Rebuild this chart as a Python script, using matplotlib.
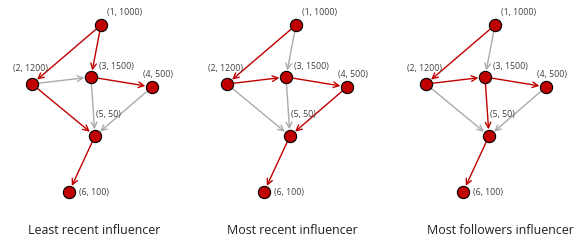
import matplotlib
matplotlib.use("Agg")
import matplotlib.pyplot as plt

# node layout (pixel coords inside one panel)
node_ids = [1, 2, 3, 4, 5, 6]
node_followers = [1000, 1200, 1500, 500, 50, 100]
node_x = [101, 32, 91, 152, 95, 69]
node_y = [25, 84, 77, 87, 136, 192]
# label offsets relative to node (dx, dy)
label_dx = [6, -19, 8, -9, 1, 10]
label_dy = [-13, -16, -10, -12, -21, 0]

edges = [(1, 2), (1, 3), (2, 3), (3, 4), (2, 5), (3, 5), (4, 5), (5, 6)]

titles = ["Least recent influencer", "Most recent influencer", "Most followers influencer"]
panel_offsets = [0, 195, 394]
title_x = [94, 292, 500]
# which edges are highlighted (1 = red) in each panel, same order as edges
highlight = [
    [1, 1, 0, 1, 1, 0, 0, 1],
    [1, 0, 1, 1, 0, 0, 1, 1],
    [1, 0, 1, 1, 0, 1, 0, 1],
]

RED = "#c00000"
GRAY = "#ababab"

fig = plt.figure(figsize=(5.82, 2.41), dpi=100)
ax = fig.add_axes([0, 0, 1, 1])
ax.set_xlim(0, 582)
ax.set_ylim(241, 0)
ax.axis("off")

for p in range(3):
    off = panel_offsets[p]
    xs = [x + off for x in node_x]
    for k, (a, b) in enumerate(edges):
        col = RED if highlight[p][k] else GRAY
        ax.annotate("", xy=(xs[b - 1], node_y[b - 1]), xytext=(xs[a - 1], node_y[a - 1]),
                    arrowprops=dict(arrowstyle="->", color=col, lw=1.0,
                                    shrinkA=4.5, shrinkB=4.8, mutation_scale=10),
                    zorder=1)
    ax.scatter(xs, node_y, s=78, c=RED, edgecolors="black", linewidths=0.8, zorder=3)
    for i in range(len(node_ids)):
        ax.text(xs[i] + label_dx[i], node_y[i] + label_dy[i],
                f"({node_ids[i]}, {node_followers[i]})",
                fontsize=6.3, color="#404040", family="Open Sans",
                ha="left", va="center", zorder=4)
    ax.text(title_x[p], 230, titles[p], fontsize=8.9, color="#202020",
            family="Open Sans", ha="center", va="center")

fig.savefig("out.png", dpi=100)
